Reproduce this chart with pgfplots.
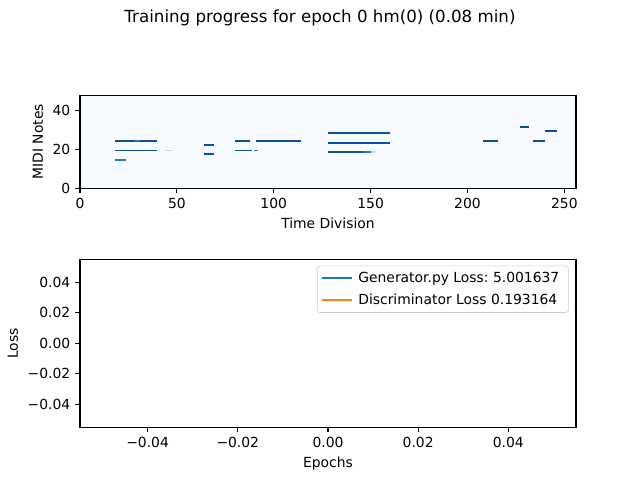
\documentclass[border=0pt]{standalone}
\usepackage{fontspec}
\setmainfont{DejaVu Sans}
\usepackage{pgfplots}
\pgfplotsset{compat=1.18}
\frenchspacing

\definecolor{rollbg}{RGB}{247,251,255}
\definecolor{rolldark}{RGB}{8,81,156}
\definecolor{rollmid}{RGB}{40,120,185}
\definecolor{rolllight}{RGB}{198,219,239}
\definecolor{mplblue}{RGB}{31,119,180}
\definecolor{mplorange}{RGB}{255,127,14}

% one note of the piano roll: x from, x to, row bottom, row top, colour
\newcommand{\note}[5]{%
  \addplot[draw=none, fill=#5, forget plot] coordinates {(#1,#3) (#2,#3) (#2,#4) (#1,#4)} -- cycle;}

\pgfplotsset{
  mpl/.style={
    scale only axis,
    axis line style={line width=0.8pt},
    tick style={line width=0.8pt, black},
    tick align=outside,
    major tick length=3.5pt,
    xtick pos=bottom, ytick pos=left,
    scaled ticks=false,
    tick label style={font=\fontsize{10}{12}\selectfont},
    label style={font=\fontsize{10}{12}\selectfont},
    /pgf/number format/assume math mode=true,
  },
}

\begin{document}
\begin{tikzpicture}
\path[use as bounding box] (0,0) rectangle (460.8pt,345.6pt);

\node[font=\fontsize{12}{14}\selectfont] at (230.4pt,332.6pt) {Training progress for epoch 0 hm(0) (0.08 min)};

\begin{axis}[mpl,
  at={(57.6pt,210pt)}, anchor=south west,
  width=357.1pt, height=67pt,
  xmin=0, xmax=256, ymin=0, ymax=48,
  xtick={0,50,100,150,200,250},
  ytick={0,20,40},
  axis background/.style={fill=rollbg},
  xlabel={Time Division},
  ylabel={MIDI Notes},
  axis on top,
]
% first phrase
\note{18}{28}{24}{25}{rolldark}
\note{28}{31}{24}{25}{rollmid}
\note{31}{40}{24}{25}{rolldark}
\note{18}{40}{19}{20}{rolldark}
\note{44}{48}{19}{20}{rolllight}
\note{18}{24}{14}{15}{rollmid}
% short pair
\note{64}{69}{22}{23}{rolldark}
\note{64}{69}{17}{18}{rolldark}
% second phrase
\note{80}{88}{24}{25}{rolldark}
\note{91}{114}{24}{25}{rolldark}
\note{80}{89}{19}{20}{rolldark}
\note{90}{92}{19}{20}{rollmid}
% chord
\note{128}{160}{28}{29}{rolldark}
\note{128}{160}{23}{24}{rolldark}
\note{128}{146}{18}{19}{rolldark}
\note{146}{150}{18}{19}{rollmid}
\note{150}{153}{18}{19}{rolllight}
% last notes
\note{208}{216}{24}{25}{rolldark}
\note{227}{232}{31}{32}{rolldark}
\note{234}{240}{24}{25}{rolldark}
\note{240}{246}{29}{30}{rolldark}
\end{axis}

\begin{axis}[mpl,
  at={(57.6pt,37.9pt)}, anchor=south west,
  width=357.1pt, height=121pt,
  xmin=-0.055, xmax=0.055, ymin=-0.055, ymax=0.055,
  xtick={-0.04,-0.02,0,0.02,0.04},
  xticklabels={−0.04,−0.02,0.00,0.02,0.04},
  ytick={-0.04,-0.02,0,0.02,0.04},
  yticklabels={−0.04,−0.02,0.00,0.02,0.04},
  xlabel={Epochs},
  ylabel={Loss},
  legend cell align=left,
  legend image code/.code={\draw[#1, line width=1.5pt] (0pt,0pt) -- (21.6pt,0pt);},
  legend style={at={(1,1)}, anchor=north east, xshift=-5.3pt, yshift=-4.6pt,
    draw=black!20, rounded corners=2pt, font=\fontsize{10}{12}\selectfont,
    inner sep=2.5pt, row sep=2.5pt,
    nodes={inner xsep=4pt}},
]
\addlegendimage{mplblue}
\addlegendentry{Generator.py Loss: 5.001637}
\addlegendimage{mplorange}
\addlegendentry{Discriminator Loss 0.193164}
\end{axis}
\end{tikzpicture}
\end{document}
